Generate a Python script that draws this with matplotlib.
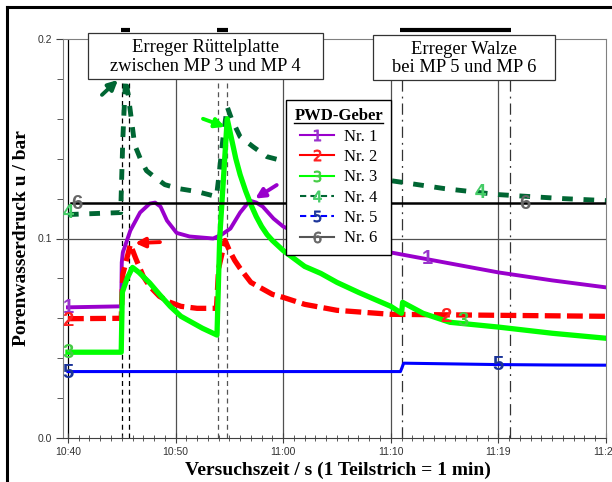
import matplotlib
matplotlib.use("Agg")
import matplotlib.pyplot as plt
from matplotlib.lines import Line2D
from matplotlib.patches import Rectangle

# time in minutes after 10:40
t1 = [0, 4.95, 5.0, 5.1, 5.8, 6.7, 7.6, 8.1, 8.6, 9.2, 10.1, 11.3, 13.5, 14.3, 15.1,
      16.0, 16.9, 17.5, 18.1, 19.1, 20.0, 22, 25, 30, 35, 40, 45, 50]
v1 = [0.0655, 0.066, 0.088, 0.093, 0.104, 0.113, 0.1175, 0.118, 0.116, 0.109, 0.1028,
      0.101, 0.100, 0.102, 0.105, 0.113, 0.119, 0.118, 0.116, 0.110, 0.106, 0.101,
      0.098, 0.093, 0.088, 0.083, 0.079, 0.0755]

t2 = [0, 4.95, 5.1, 5.8, 6.3, 7.0, 7.6, 8.5, 9.5, 10.5, 12.0, 13.8, 14.0, 14.6, 15.0,
      15.5, 16.0, 17.0, 18.0, 19.0, 20.0, 22.0, 25, 30, 40, 50]
v2 = [0.0598, 0.060, 0.082, 0.097, 0.090, 0.081, 0.076, 0.071, 0.068, 0.066, 0.065,
      0.065, 0.085, 0.099, 0.094, 0.089, 0.085, 0.078, 0.075, 0.072, 0.0705, 0.067,
      0.064, 0.062, 0.0615, 0.061]

t3 = [0, 4.95, 5.05, 5.5, 6.0, 6.6, 7.6, 8.5, 9.5, 10.5, 11.5, 12.5, 13.85, 14.1,
      14.8, 15.2, 15.6, 16.0, 16.5, 17.0, 17.5, 18.0, 18.5, 19.0, 20.0, 21.0, 22.0,
      23.5, 25.0, 27.0, 30.0, 31.0, 31.1, 33.0, 35.5, 40.0, 45.0, 50.0]
v3 = [0.043, 0.043, 0.073, 0.080, 0.0855, 0.083, 0.0777, 0.072, 0.066, 0.061, 0.058,
      0.055, 0.0516, 0.100, 0.160, 0.150, 0.140, 0.132, 0.124, 0.117, 0.111, 0.106,
      0.102, 0.099, 0.094, 0.090, 0.086, 0.0825, 0.078, 0.073, 0.066, 0.0625, 0.068,
      0.0625, 0.058, 0.0556, 0.0525, 0.050]

t4 = [0, 4.9, 5.1, 5.35, 5.6, 6.2, 6.8, 7.3, 8.0, 9.0, 10.3, 12.0, 13.8, 14.0, 14.4,
      14.8, 15.2, 16.0, 17.2, 18.5, 19.9, 22, 25, 30, 35, 38.3, 40, 43, 46, 50]
v4 = [0.112, 0.113, 0.150, 0.180, 0.172, 0.147, 0.139, 0.134, 0.131, 0.127, 0.125,
      0.1235, 0.121, 0.130, 0.150, 0.166, 0.160, 0.151, 0.146, 0.141, 0.139, 0.136,
      0.133, 0.129, 0.125, 0.123, 0.122, 0.121, 0.120, 0.119]

t5 = [0, 30.9, 31.2, 35, 40, 45, 50]
v5 = [0.0333, 0.0333, 0.0375, 0.0372, 0.0368, 0.0366, 0.0365]

t6 = [0.3, 50]
v6 = [0.1178, 0.1178]

colors = ['#9900CC', '#FF0000', '#00FF00', '#006633', '#0000FF', '#000000']
label_colors = ['#9933CC', '#FF2020', '#44CC44', '#44CC66', '#1A3399', '#666666']
names = ['Nr. 1', 'Nr. 2', 'Nr. 3', 'Nr. 4', 'Nr. 5', 'Nr. 6']

# digit labels on the curves (minutes, value)
lab_pos = [[(0, 0.0655), (33.4, 0.090)],
           [(0, 0.059), (35.1, 0.0607)],
           [(0, 0.043), (36.7, 0.059)],
           [(0, 0.113), (38.3, 0.123)],
           [(0, 0.033), (40.0, 0.0366)],
           [(0.8, 0.1175), (42.5, 0.1175)]]

# excitation periods
rp_periods = [(4.99, 5.70), (13.97, 14.75)]
walze_period = (31.0, 41.1)

xticks = [0, 10, 20, 30, 40, 50]
xticklabels = ['10:40', '10:50', '11:00', '11:10', '11:19', '11:29']

W, H = 612, 482


def fx(x):
    return x / W


def fy(y):
    return 1 - y / H


serif = 'Liberation Serif'
sans = 'Liberation Sans'

fig = plt.figure(figsize=(W / 100, H / 100), dpi=100)
ax = fig.add_axes([fx(63), fy(438), (606 - 63) / W, (438 - 39) / H])
ax.set_xlim(-0.46, 50)
ax.set_ylim(0, 0.2)

# grid lines
ax.axvline(0, color='k', lw=0.9, zorder=1)
for xv in [10, 20, 30, 40]:
    ax.axvline(xv, color='#505050', lw=0.9, zorder=1)
ax.axhline(0.1, color='#505050', lw=0.9, zorder=1)

# excitation markers
for a, b in rp_periods:
    col = 'k' if a < 10 else '#555555'
    ax.axvline(a, color=col, lw=0.9, ls=(0, (4, 3)), zorder=1)
    ax.axvline(b, color=col, lw=0.9, ls=(0, (4, 3)), zorder=1)
    ax.plot([a - 0.1, b + 0.1], [0.2046, 0.2046], color='k', lw=3,
            solid_capstyle='butt', clip_on=False, zorder=6)
for xv in walze_period:
    ax.axvline(xv, color='#333333', lw=0.9, ls=(0, (9, 4, 1.5, 4)), zorder=1)
ax.plot([walze_period[0] - 0.1, walze_period[1] + 0.1], [0.2046, 0.2046], color='k',
        lw=3, solid_capstyle='butt', clip_on=False, zorder=6)

# data
ax.plot(t4, v4, color=colors[3], lw=3.5, ls=(0, (2.2, 2.2)), zorder=3)
ax.plot(t6, v6, color=colors[5], lw=1.8, zorder=4)
ax.plot(t1, v1, color=colors[0], lw=2.8, zorder=3)
ax.plot(t2, v2, color=colors[1], lw=3.8, ls=(0, (3, 1.2)), zorder=3)
ax.plot(t3, v3, color=colors[2], lw=3.8, zorder=3)
ax.plot(t5, v5, color=colors[4], lw=2.2, zorder=3)

for i, pts in enumerate(lab_pos):
    for (xm, yv) in pts:
        ax.text(xm, yv, str(i + 1), color=label_colors[i], fontsize=14.5,
                family=sans, fontweight='bold', ha='center', va='center', zorder=5)

# arrows
arrows = [((3.16, 0.172), (4.65, 0.1795), colors[3]),
          ((8.55, 0.0982), (6.23, 0.0977), colors[1]),
          ((12.55, 0.160), (14.6, 0.156), colors[2]),
          ((19.4, 0.1268), (17.4, 0.120), colors[0])]
for tail, head, c in arrows:
    ax.annotate('', xy=head, xytext=tail, zorder=6,
                arrowprops=dict(arrowstyle='-|>', color=c, lw=2.8,
                                mutation_scale=14, shrinkA=0, shrinkB=0))

# axes styling
for s in ['top', 'right', 'left']:
    ax.spines[s].set_color('#808080')
ax.spines['bottom'].set_color('#404040')
ax.set_yticks([0, 0.1, 0.2])
ax.set_yticklabels(['0.0', '0.1', '0.2'])
ax.set_yticks([0.02, 0.04, 0.06, 0.08, 0.12, 0.14, 0.16, 0.18], minor=True)
ax.set_xticks(xticks)
ax.set_xticklabels(xticklabels)
ax.set_xticks([m for m in range(1, 50) if m % 10], minor=True)
ax.tick_params(axis='y', which='major', length=5, direction='out', colors='#404040',
               labelcolor='#333333', labelsize=7.5, pad=3)
ax.tick_params(axis='y', which='minor', length=4, direction='out', colors='#404040')
ax.tick_params(axis='x', which='major', length=7, direction='inout', colors='#404040',
               labelcolor='#333333', labelsize=7.5, pad=3)
ax.tick_params(axis='x', which='minor', length=5, direction='inout', colors='#404040')
for lbl in ax.get_xticklabels() + ax.get_yticklabels():
    lbl.set_family(sans)

# legend
handles = []
for i in range(6):
    ls = '-'
    if i in (3, 4):
        ls = (0, (3, 2))
    handles.append(Line2D([], [], color=colors[i] if i < 5 else '#555555', lw=1.5, ls=ls,
                          marker='$%d$' % (i + 1), markersize=8,
                          markeredgewidth=0.6,
                          markerfacecolor=label_colors[i],
                          markeredgecolor=label_colors[i]))
leg = ax.legend(handles, names, loc='upper left',
                bbox_to_anchor=(fx(286), fy(100)), bbox_transform=fig.transFigure,
                borderaxespad=0, prop={'family': serif, 'size': 12},
                title='PWD-Geber', title_fontproperties={'family': serif, 'size': 12,
                                                         'weight': 'bold'},
                handlelength=2.0, handletextpad=0.6, labelspacing=0.26,
                borderpad=0.5, fancybox=False, framealpha=1, edgecolor='k')
leg.get_frame().set_linewidth(1.0)
leg.set_zorder(8)

# text boxes above the plot
boxes = [((88, 33, 323, 79), 'Erreger Rüttelplatte\nzwischen MP 3 und MP 4'),
         ((373, 35, 555, 80), 'Erreger Walze\nbei MP 5 und MP 6')]
for (x0, y0, x1, y1), txt in boxes:
    fig.add_artist(Rectangle((fx(x0), fy(y1)), (x1 - x0) / W, (y1 - y0) / H,
                             transform=fig.transFigure, facecolor='white',
                             edgecolor='#333333', lw=0.9, zorder=7))
    fig.text(fx((x0 + x1) / 2), fy((y0 + y1) / 2 + 1), txt, ha='center', va='center',
             family=serif, fontsize=13.3, linespacing=1.12, zorder=8)

# axis labels
fig.text(fx(22), fy(238), 'Porenwasserdruck u / bar', rotation=90, ha='center',
         va='center', family=serif, fontsize=14, fontweight='bold')
fig.text(fx(338), fy(470), 'Versuchszeit / s (1 Teilstrich = 1 min)', ha='center',
         va='center', family=serif, fontsize=14, fontweight='bold')

# outer frame
fig.add_artist(Line2D([fx(7), 1.0], [fy(7), fy(7)], transform=fig.transFigure,
                      color='k', lw=2.2))
fig.add_artist(Line2D([fx(7), fx(7)], [fy(7), 0.0], transform=fig.transFigure,
                      color='k', lw=2.2))

# underline of the legend title
fig.canvas.draw()
bb = leg.get_title().get_window_extent().transformed(fig.transFigure.inverted())
fig.add_artist(Line2D([bb.x0, bb.x1], [bb.y0 + 0.002, bb.y0 + 0.002],
                      transform=fig.transFigure, color='k', lw=1.0, zorder=9))

fig.savefig('out.png', dpi=100)
